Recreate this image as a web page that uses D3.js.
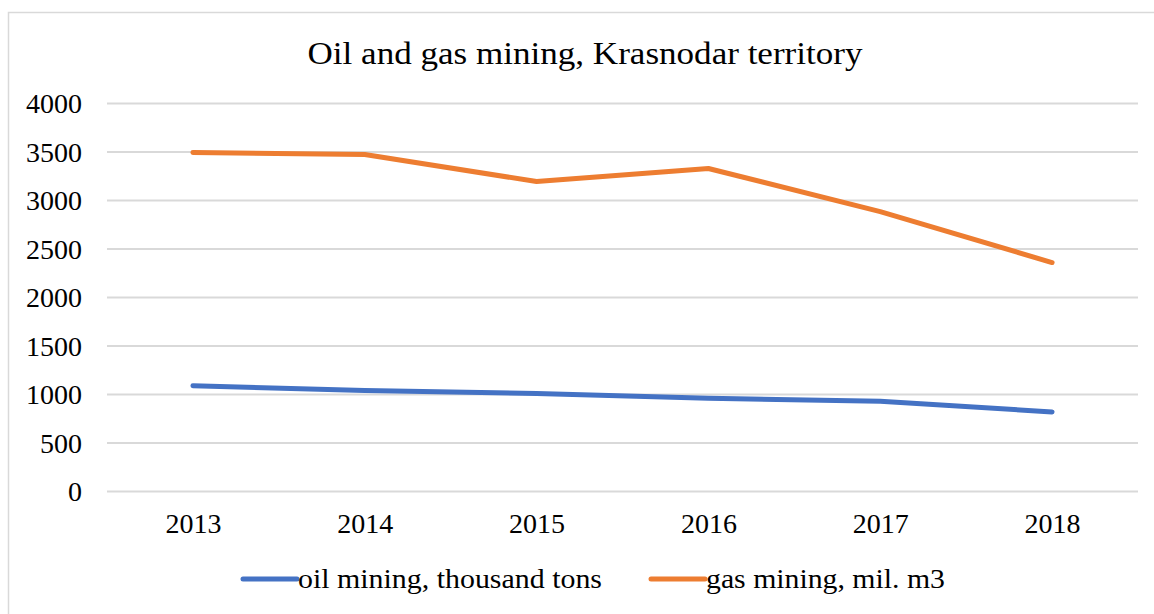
<!DOCTYPE html>
<html>
<head>
<meta charset="utf-8">
<script src="https://cdn.jsdelivr.net/npm/d3@7"></script>
<style>
  html, body { margin: 0; padding: 0; background: #fff; }
  svg, svg text { font-family: "Liberation Serif", serif !important; }
</style>
</head>
<body>
<div id="chart"></div>
<script>
const years = ['2013', '2014', '2015', '2016', '2017', '2018'];
const oilMining = [1085, 1035, 1005, 955, 925, 815];
const gasMining = [3490, 3470, 3190, 3325, 2880, 2355];
const yTicks = [0, 500, 1000, 1500, 2000, 2500, 3000, 3500, 4000];
const seriesNames = ['oil mining, thousand tons', 'gas mining, mil. m3'];
const seriesColors = ['#4472C4', '#ED7D31'];

const width = 1154;
const height = 614;
const margin = { top: 103, right: 16, bottom: 123, left: 107 };
const w = width - margin.left - margin.right;
const h = height - margin.top - margin.bottom;

const svg = d3.select('#chart')
  .append('svg')
  .attr('width', width)
  .attr('height', height)
  .attr('font-family', 'Liberation Serif');

// outer frame
svg.append('rect')
  .attr('x', 8.5).attr('y', 12.5)
  .attr('width', width + 10).attr('height', height + 10)
  .attr('fill', 'none')
  .attr('stroke', '#d9d9d9')
  .attr('stroke-width', 1.5);

svg.append('text')
  .attr('x', 585).attr('y', 64)
  .attr('text-anchor', 'middle')
  .attr('textLength', 555)
  .attr('lengthAdjust', 'spacingAndGlyphs')
  .attr('font-size', 32)
  .text('Oil and gas mining, Krasnodar territory');

const g = svg.append('g')
  .attr('transform', 'translate(' + margin.left + ',' + margin.top + ')');

const xScale = d3.scalePoint().domain(years).range([0, w]).padding(0.5);
const yScale = d3.scaleLinear().domain([0, 4000]).range([h, 0]);

// gridlines via axis
const yAxis = g.append('g')
  .call(d3.axisLeft(yScale).tickValues(yTicks).tickFormat(d3.format('d')).tickSize(-w).tickPadding(25))
  .attr('font-family', 'Liberation Serif')
  .attr('font-size', 28);
yAxis.select('.domain').remove();
yAxis.selectAll('.tick line')
  .attr('stroke', '#d9d9d9')
  .attr('stroke-width', 2);
yAxis.selectAll('.tick text')
  .attr('dy', '0.34em')
  .attr('fill', '#000');

const xAxis = g.append('g')
  .attr('transform', 'translate(0,' + h + ')')
  .call(d3.axisBottom(xScale).tickSize(0).tickPadding(22))
  .attr('font-family', 'Liberation Serif')
  .attr('font-size', 28);
xAxis.select('.domain').remove();
xAxis.selectAll('.tick text')
  .attr('fill', '#000');

const line = d3.line()
  .x((d, i) => xScale(years[i]))
  .y(d => yScale(d));

[oilMining, gasMining].forEach(function(series, i) {
  g.append('path')
    .datum(series)
    .attr('d', line)
    .attr('fill', 'none')
    .attr('stroke', seriesColors[i])
    .attr('stroke-width', 5)
    .attr('stroke-linecap', 'round')
    .attr('stroke-linejoin', 'round');
});

// legend
const legendX = [243, 651];
const legendW = [304, 239];
const legendY = 579;
seriesNames.forEach(function(name, i) {
  const lg = svg.append('g').attr('transform', 'translate(' + legendX[i] + ',' + legendY + ')');
  lg.append('line')
    .attr('x1', 0).attr('x2', 54)
    .attr('y1', 0).attr('y2', 0)
    .attr('stroke', seriesColors[i])
    .attr('stroke-width', 5)
    .attr('stroke-linecap', 'round');
  lg.append('text')
    .attr('x', 55).attr('y', 9)
    .attr('textLength', legendW[i])
    .attr('lengthAdjust', 'spacingAndGlyphs')
    .attr('font-size', 27)
    .text(name);
});
</script>
</body>
</html>
